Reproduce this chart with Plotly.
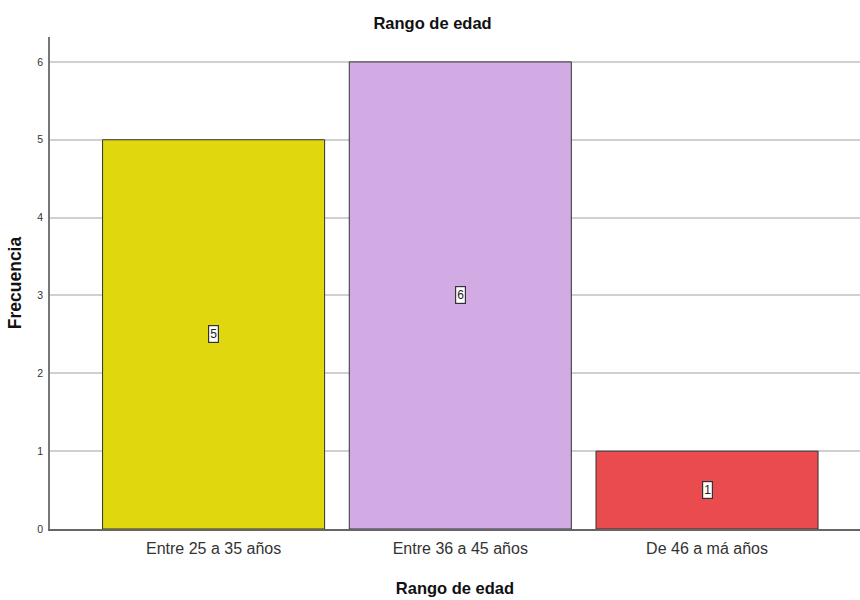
import plotly.graph_objects as go

categories = ["Entre 25 a 35 años", "Entre 36 a 45 años", "De 46 a má años"]
values = [5, 6, 1]
colors = ["#E1D70F", "#D2AAE4", "#EA4B4E"]
y_ticks = [0, 1, 2, 3, 4, 5, 6]

fig = go.Figure()
fig.add_trace(go.Bar(
    x=list(range(len(categories))),
    y=values,
    marker=dict(color=colors, line=dict(color="#333333", width=1)),
    width=0.9,
    hoverinfo="skip",
))

for i, v in enumerate(values):
    fig.add_annotation(
        x=i, y=v / 2, text=str(v), showarrow=False,
        font=dict(family="Liberation Sans, Arial", size=12, color="#222"),
        bgcolor="white", bordercolor="#333333", borderwidth=1.2, borderpad=1,
    )

fig.update_layout(
    width=860, height=600,
    margin=dict(l=50, r=0, t=37, b=71),
    paper_bgcolor="white", plot_bgcolor="white",
    showlegend=False,
    font=dict(family="Liberation Sans, Arial", color="#333333"),
    title=dict(text="<b>Rango de edad</b>", x=0.503, xanchor="center",
               y=0.962, yanchor="middle",
               font=dict(size=16.5, color="#111111")),
    xaxis=dict(
        range=[-0.663, 2.62],
        tickmode="array", tickvals=list(range(len(categories))), ticktext=categories,
        tickfont=dict(size=16, color="#333333"),
        showgrid=False, zeroline=False,
        showline=True, linecolor="#666666", linewidth=1.5,
        ticks="", ticklen=0, ticklabelstandoff=4,
        title=dict(text="<b>Rango de edad</b>", font=dict(size=16.5, color="#111111"), standoff=26),
    ),
    yaxis=dict(
        range=[0, 6.32],
        tickmode="array", tickvals=y_ticks,
        tickfont=dict(size=10.5, color="#333333"),
        showgrid=True, gridcolor="#D0D0D0", gridwidth=1.5,
        zeroline=False,
        showline=True, linecolor="#777777", linewidth=1.5,
        ticks="", ticklabelstandoff=3,
        title=dict(text="<b>Frecuencia</b>", font=dict(size=17.5, color="#111111"), standoff=11),
    ),
)

fig.write_html("out.html")
